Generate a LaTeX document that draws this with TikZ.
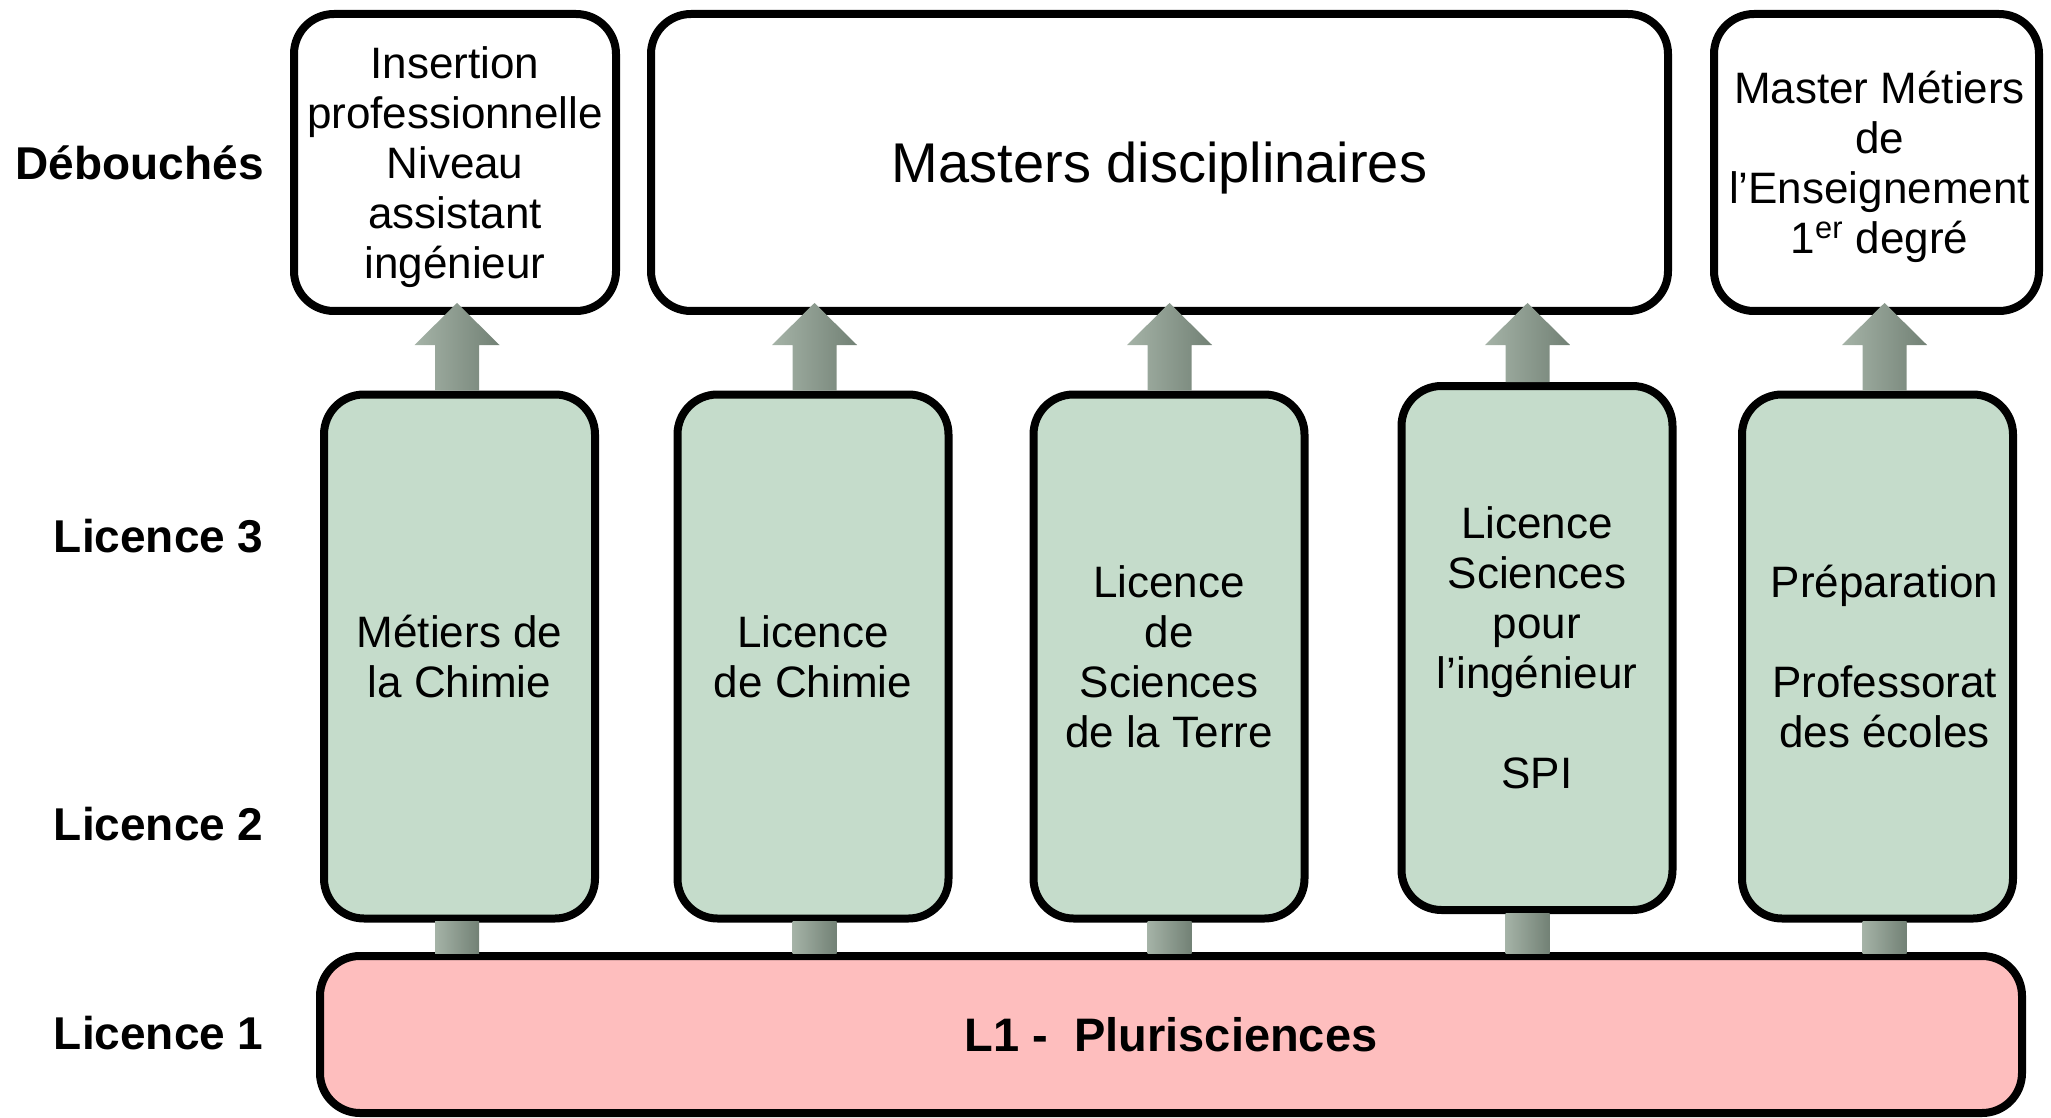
\documentclass[tikz,border=0pt]{standalone}
\usepackage{fontspec}
\setmainfont{Liberation Sans}
\usetikzlibrary{calc}
\definecolor{greenfill}{RGB}{197,220,203}
\definecolor{pinkfill}{RGB}{254,190,190}
\definecolor{arrowD}{RGB}{114,129,117}
\definecolor{arrowL}{RGB}{165,179,167}
\tikzset{
  box/.style={draw=black, line width=4pt, rounded corners=20pt, align=center, inner sep=0pt,
    font=\fontsize{22}{25}\selectfont},
  topbox/.style={box, fill=white, minimum height=148.5pt, text depth=0pt},
  greenbox/.style={box, fill=greenfill, minimum width=135.5pt, minimum height=262pt},
  levellabel/.style={anchor=east, inner sep=0pt, font=\fontsize{23}{26}\selectfont\bfseries},
  arrowshade/.style={left color=arrowL, right color=arrowD, draw=none},
}
% #1 x (px), #2 lower anchor, #3 upper anchor (anchors lie on the outer edge of the border)
\newcommand\fatup[3]{%
  \shade[arrowshade] let \p1=(#2), \p2=(#3) in
    ({#1*0.5pt-11pt},\y1) -- ({#1*0.5pt-11pt},\y2-15pt) -- ({#1*0.5pt-21.25pt},\y2-15pt)
    -- ({#1*0.5pt},\y2+6pt) -- ({#1*0.5pt+21.25pt},\y2-15pt) -- ({#1*0.5pt+11pt},\y2-15pt)
    -- ({#1*0.5pt+11pt},\y1) -- cycle;}
% #1 x (px), #2 lower node anchor (pink north), #3 upper anchor (green south)
\newcommand\fatshaft[3]{%
  \shade[arrowshade] let \p1=(#2), \p2=(#3) in
    ({#1*0.5pt-11pt},\y1-0.5pt) rectangle ({#1*0.5pt+11pt},\y2+0.5pt);}
\begin{document}
\begin{tikzpicture}[x=0.5pt,y=-0.5pt]
\useasboundingbox (0,0) rectangle (2051,1118);

% level labels
\node[levellabel] (lD) at (264,163) {Débouchés};
\node[levellabel] (l3) at (264,536) {Licence 3};
\node[levellabel] (l2) at (264,824) {Licence 2};
\node[levellabel] (l1) at (264,1033) {Licence 1};

% top boxes
\node[topbox, minimum width=161pt] (t1) at (455,162.5)
  {Insertion\\professionnelle\\Niveau\\assistant\\ingénieur};
\node[topbox, minimum width=508.5pt, font=\fontsize{28}{32}\selectfont] (t2) at (1159.5,162.5)
  {Masters disciplinaires};
\node[topbox, minimum width=162.5pt] (t3) at (1876.5,162.5)
  {\hspace*{3pt}Master Métiers\\\hspace*{3pt}de\\\hspace*{3pt}l’Enseignement\\\hspace*{3pt}1\textsuperscript{er} degré};

% green boxes
\node[greenbox] (g1) at (459.5,656.5) {Métiers de\\la Chimie};
\node[greenbox] (g2) at (813,656.5) {Licence\\de Chimie};
\node[greenbox] (g3) at (1169,656.5) {Licence\\de\\Sciences\\de la Terre};
\node[greenbox] (g4) at (1537,648) {Licence\\Sciences\\pour\\l’ingénieur\\[25pt]SPI};
\node[greenbox] (g5) at (1877.5,656.5)
  {\hspace*{7pt}Préparation\\[25pt]\hspace*{7pt}Professorat\\\hspace*{7pt}des écoles};

% pink box
\node[box, fill=pinkfill, minimum width=851pt, minimum height=78.5pt,
  font=\fontsize{23.5}{27}\selectfont\bfseries] (p) at (1171,1034.5) {L1 -\ \ Plurisciences};

% arrows green -> top
\fatup{457}{g1.north}{t1.south}
\fatup{814.5}{g2.north}{t2.south}
\fatup{1169.5}{g3.north}{t2.south}
\fatup{1527.5}{g4.north}{t2.south}
\fatup{1884.5}{g5.north}{t3.south}

% shafts pink -> green
\fatshaft{457}{p.north}{g1.south}
\fatshaft{814.5}{p.north}{g2.south}
\fatshaft{1169.5}{p.north}{g3.south}
\fatshaft{1527.5}{p.north}{g4.south}
\fatshaft{1884.5}{p.north}{g5.south}
\end{tikzpicture}
\end{document}
